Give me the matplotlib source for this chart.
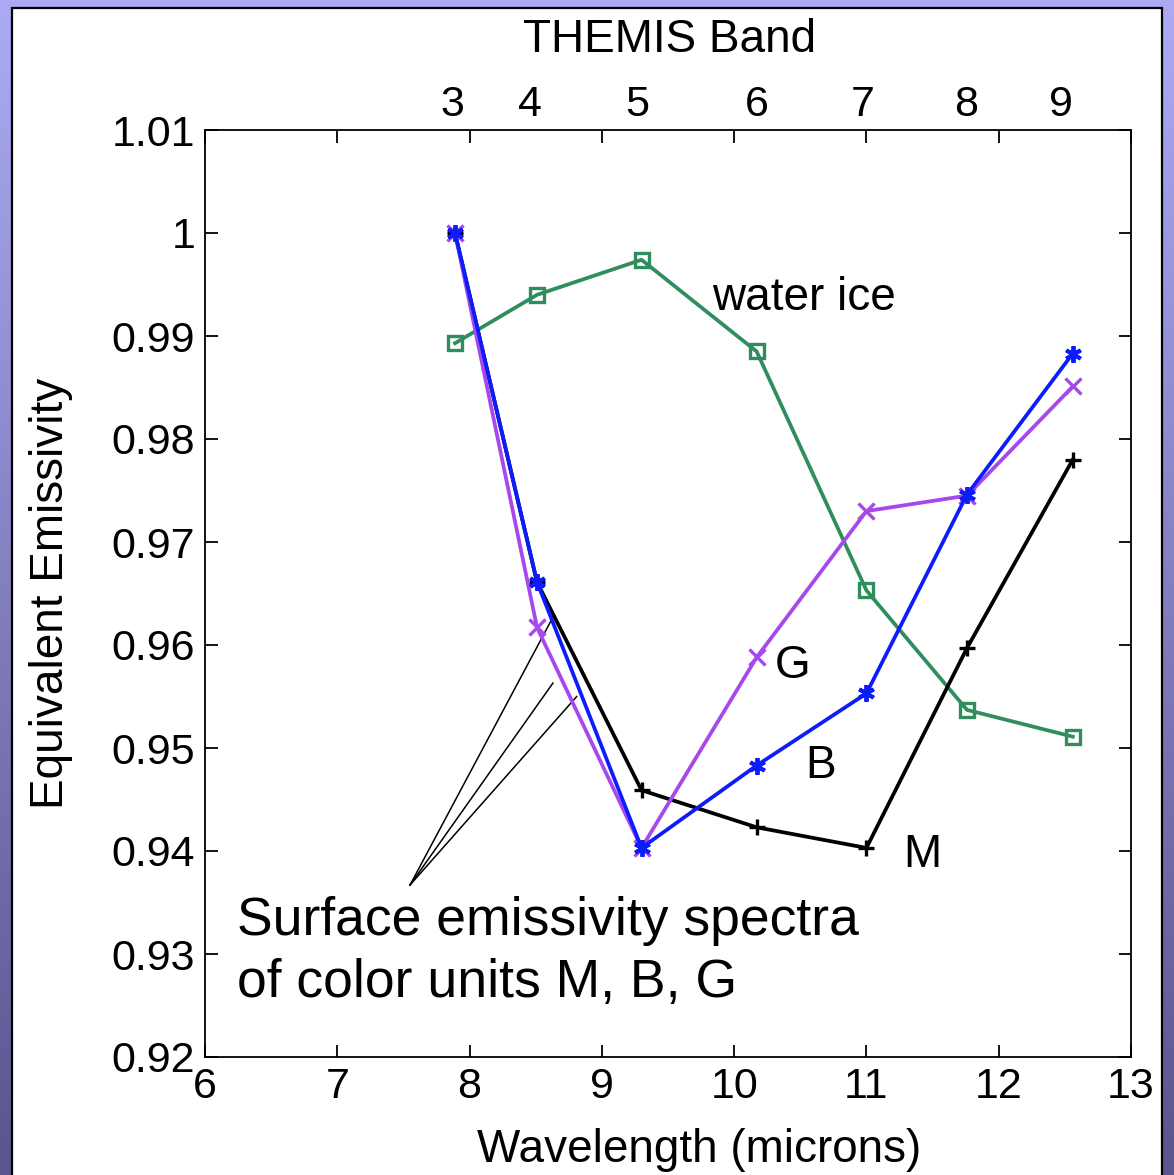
import numpy as np
import matplotlib
matplotlib.use("Agg")
import matplotlib.pyplot as plt
from matplotlib.patches import Rectangle

plt.rcParams["font.family"] = ["Liberation Sans", "DejaVu Sans"]

# -------------------------------
# DATA
# -------------------------------
wavelength = [7.89, 8.51, 9.30, 10.17, 11.00, 11.76, 12.56]
band_labels = ["3", "4", "5", "6", "7", "8", "9"]
band_label_x = [7.87, 8.46, 9.27, 10.17, 10.97, 11.75, 12.47]

water_ice = [0.9893, 0.9940, 0.9974, 0.9885, 0.9653, 0.9537, 0.9511]
unit_M = [1.0000, 0.9661, 0.9459, 0.9423, 0.9403, 0.9597, 0.9780]
unit_G = [1.0000, 0.9617, 0.9403, 0.9588, 0.9730, 0.9745, 0.9851]
unit_B = [1.0000, 0.9661, 0.9403, 0.9483, 0.9553, 0.9746, 0.9883]

yticks = [0.92, 0.93, 0.94, 0.95, 0.96, 0.97, 0.98, 0.99, 1.00, 1.01]
ytick_labels = ["0.92", "0.93", "0.94", "0.95", "0.96", "0.97", "0.98", "0.99", "1", "1.01"]
xticks = [6, 7, 8, 9, 10, 11, 12, 13]

GREEN = "#2f8d5e"
PURPLE = "#a648ec"
BLUE = "#0d1cfc"

# -------------------------------
# FIGURE + SLIDE BACKGROUND
# -------------------------------
fig = plt.figure(figsize=(11.74, 11.75), dpi=100)

bg = fig.add_axes([0, 0, 1, 1], zorder=-10)
top_col = np.array([172, 170, 243]) / 255
bot_col = np.array([90, 85, 142]) / 255
t = np.linspace(0, 1, 256)[:, None]
grad = top_col * (1 - t[..., None]) + bot_col * t[..., None]
grad = np.repeat(grad, 2, axis=1)
bg.imshow(grad, aspect="auto", extent=[0, 1, 0, 1])
bg.add_patch(Rectangle((12 / 1174, -0.02), 1150 / 1174, 1 - 8 / 1175 + 0.02,
                       facecolor="white", edgecolor="black", linewidth=1.6))
bg.set_xlim(0, 1)
bg.set_ylim(0, 1)
bg.axis("off")

# -------------------------------
# MAIN AXES
# -------------------------------
ax = fig.add_axes([205 / 1174, 1 - 1057 / 1175, 926 / 1174, 927 / 1175])

ax.plot(wavelength, water_ice, color=GREEN, lw=2.7, marker="s", ms=10,
        mfc="none", mec=GREEN, mew=2.4, zorder=3)
ax.plot(wavelength, unit_M, color="black", lw=2.7, marker="+", ms=11,
        mew=2.4, zorder=4)
ax.plot(wavelength, unit_G, color=PURPLE, lw=2.7, marker="x", ms=11,
        mew=2.4, zorder=5)
ax.plot(wavelength, unit_B, color=BLUE, lw=2.7, marker=(6, 2, 0), ms=12,
        mew=2.8, zorder=6)

ax.set_xlim(6, 13)
ax.set_ylim(0.92, 1.01)
ax.set_xticks(xticks)
ax.set_xticklabels([str(v) for v in xticks])
ax.set_yticks(yticks)
ax.set_yticklabels(ytick_labels)
ax.tick_params(direction="in", top=True, right=True, length=9, width=1.3,
               labelsize=31, pad=7)
for s in ax.spines.values():
    s.set_linewidth(1.3)

ax.set_ylabel("Equivalent Emissivity", fontsize=33, labelpad=28)

# top "axis" with THEMIS band numbers
for xb, lab in zip(band_label_x, band_labels):
    ax.text(xb, 1.0105, lab, fontsize=31, ha="center", va="bottom")
fig.text(670 / 1174, 1 - 40 / 1175, "THEMIS Band", fontsize=33,
         ha="center", va="center")
fig.text(699 / 1174, 1 - 1150 / 1175, "Wavelength (microns)", fontsize=33,
         ha="center", va="center")

# curve labels
ax.text(9.83, 0.9937, "water ice", fontsize=33, va="center")
ax.text(10.31, 0.9580, "G", fontsize=33, va="center")
ax.text(10.54, 0.9483, "B", fontsize=33, va="center")
ax.text(11.28, 0.9396, "M", fontsize=33, va="center")

# annotation with three pointer lines
ax.text(6.24, 0.9302, "Surface emissivity spectra\nof color units M, B, G",
        fontsize=38.5, va="center", ha="left", linespacing=1.3)
for xe, ye in [(8.63, 0.9627), (8.63, 0.9563), (8.81, 0.9550)]:
    ax.plot([7.55, xe], [0.9367, ye], color="black", lw=1.1, zorder=2)

fig.savefig("out.png", dpi=100)
